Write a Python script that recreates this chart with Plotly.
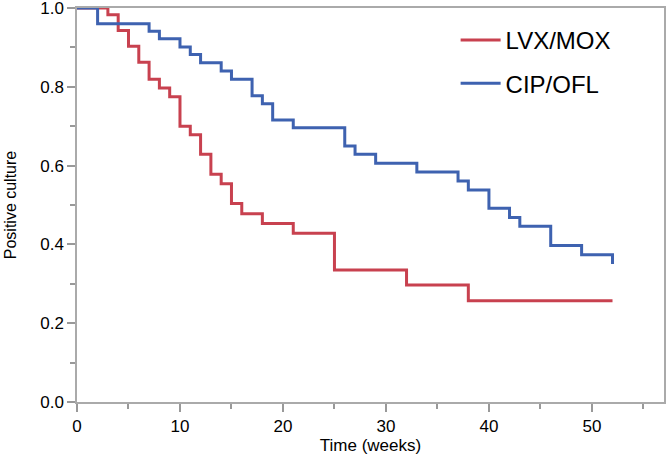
import plotly.graph_objects as go

# Kaplan-Meier style step data (time in weeks, proportion with positive culture)
lvx_weeks = [0, 3, 4, 5, 6, 7, 8, 9, 10, 11, 12, 13, 14, 15, 16, 18, 21, 25, 32, 38, 52]
lvx_vals = [1.0, 0.983, 0.943, 0.903, 0.862, 0.819, 0.797, 0.775, 0.700, 0.678, 0.629,
            0.578, 0.554, 0.504, 0.478, 0.453, 0.428, 0.335, 0.297, 0.257, 0.257]

cip_weeks = [0, 2, 7, 8, 10, 11, 12, 14, 15, 17, 18, 19, 21, 26, 27, 29, 33, 37, 38,
             40, 42, 43, 46, 49, 52]
cip_vals = [1.0, 0.960, 0.941, 0.922, 0.901, 0.882, 0.861, 0.840, 0.819, 0.777, 0.757,
            0.716, 0.696, 0.650, 0.629, 0.606, 0.584, 0.561, 0.538, 0.492, 0.468, 0.446,
            0.397, 0.374, 0.350]

series_names = ["LVX/MOX", "CIP/OFL"]
x_tick_vals = [0, 10, 20, 30, 40, 50]
y_tick_vals = [0.0, 0.2, 0.4, 0.6, 0.8, 1.0]
y_tick_text = ["0.0", "0.2", "0.4", "0.6", "0.8", "1.0"]

RED = "#C8414F"
BLUE = "#3E62B0"
FONT = "Liberation Sans, Arial, Helvetica, sans-serif"

fig = go.Figure()
fig.add_trace(go.Scatter(x=lvx_weeks, y=lvx_vals, mode="lines", line_shape="hv",
                         name=series_names[0], legendgroup="a",
                         line=dict(color=RED, width=3)))
fig.add_trace(go.Scatter(x=cip_weeks, y=cip_vals, mode="lines", line_shape="hv",
                         name=series_names[1], legendgroup="b",
                         line=dict(color=BLUE, width=3)))

fig.update_layout(
    width=666, height=458,
    margin=dict(l=77, r=2, t=8, b=56),
    paper_bgcolor="white", plot_bgcolor="white",
    font=dict(family=FONT, color="black", size=17),
    legend=dict(x=0.645, y=0.975, xanchor="left", yanchor="top",
                bgcolor="rgba(0,0,0,0)", font=dict(size=24, family=FONT),
                tracegroupgap=9, itemwidth=40),
    showlegend=True,
)
fig.update_xaxes(
    range=[0, 57], tickvals=x_tick_vals, ticks="outside", ticklen=8, tickwidth=1.5,
    tickcolor="#999999", showline=True, linecolor="#aaaaaa", linewidth=1.5, mirror=True,
    showgrid=False, zeroline=False, tickfont=dict(size=17), automargin=False,
    ticklabeloverflow="allow",
    minor=dict(dtick=5, ticks="outside", ticklen=5, tickcolor="#999999", tickwidth=1.5),
    title=dict(text="Time (weeks)", font=dict(size=17), standoff=2),
)
fig.update_yaxes(
    range=[0, 1.0], tickvals=y_tick_vals, ticktext=y_tick_text, ticks="outside",
    ticklen=8, tickwidth=1.5, tickcolor="#999999", showline=True, linecolor="#aaaaaa",
    linewidth=1.5, mirror=True, showgrid=False, zeroline=False, tickfont=dict(size=17),
    automargin=False, ticklabeloverflow="allow",
    minor=dict(dtick=0.1, ticks="outside", ticklen=5, tickcolor="#999999", tickwidth=1.5),
    title=dict(text="Positive culture", font=dict(size=16), standoff=20),
)

fig.write_html(
    "out.html",
    config={"displayModeBar": False},
    post_script="document.body.style.margin='0';document.body.style.padding='0';",
)
